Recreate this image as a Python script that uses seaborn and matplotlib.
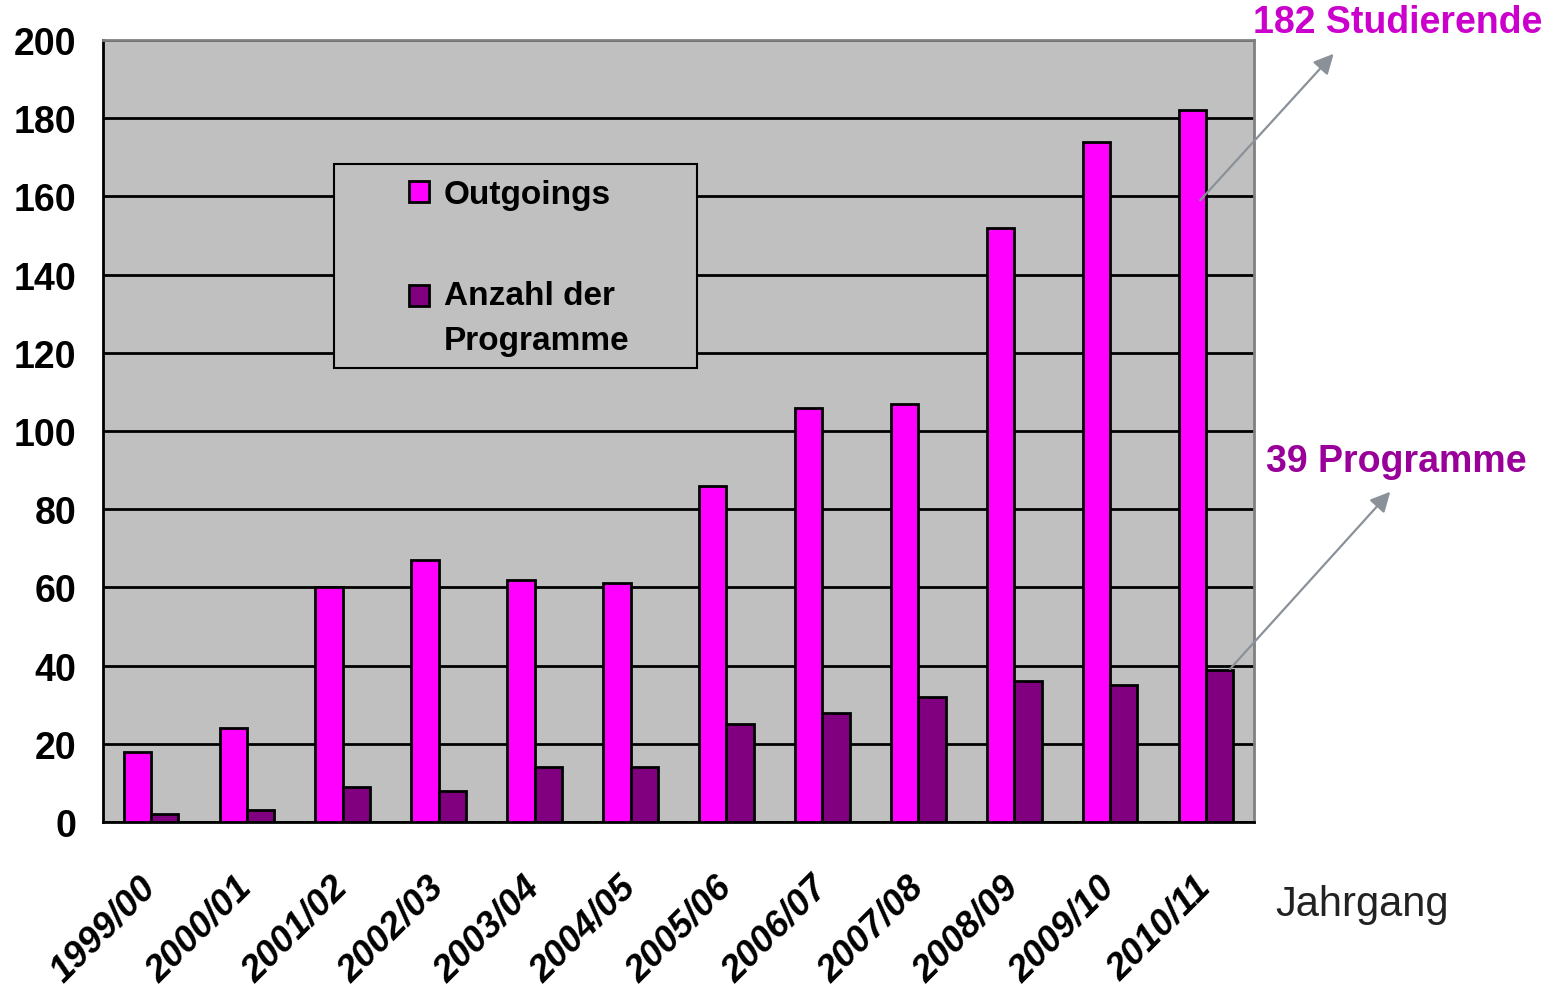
import pandas as pd
import numpy as np
import matplotlib
matplotlib.use('Agg')
import matplotlib.pyplot as plt
import seaborn as sns
from matplotlib.patches import Rectangle
from matplotlib.legend_handler import HandlerPatch

# dados
jahrgaenge = ['1999/00', '2000/01', '2001/02', '2002/03', '2003/04', '2004/05',
              '2005/06', '2006/07', '2007/08', '2008/09', '2009/10', '2010/11']
outgoings = [18, 24, 60, 67, 62, 61, 86, 106, 107, 152, 174, 182]
programme = [2, 3, 9, 8, 14, 14, 25, 28, 32, 36, 35, 39]
serien = ['Outgoings', 'Anzahl der\nProgramme']

df = pd.DataFrame({
    'Jahrgang': jahrgaenge * 2,
    'Wert': outgoings + programme,
    'Serie': [serien[0]] * len(jahrgaenge) + [serien[1]] * len(jahrgaenge),
})

sns.set_style('white')
plt.rcParams['font.family'] = ['Liberation Sans', 'DejaVu Sans']
for k in ['text.color', 'axes.labelcolor', 'xtick.color', 'ytick.color']:
    plt.rcParams[k] = 'black'

fig = plt.figure(figsize=(15.59, 9.95), dpi=100)
ax = fig.add_axes([103 / 1559, 1 - 823 / 995, 1151 / 1559, 782 / 995])
ax.set_facecolor('#C0C0C0')

cores = {serien[0]: '#FF00FF', serien[1]: '#800080'}
sns.barplot(data=df, x='Jahrgang', y='Wert', hue='Serie', palette=cores,
            width=0.57, edgecolor='black', linewidth=2, saturation=1,
            ax=ax, legend=True, zorder=3)

ax.set_xlim(-0.5, len(jahrgaenge) - 0.5)
ax.set_ylim(0, 200)
ax.set_yticks(range(0, 201, 20))
ax.set_axisbelow(True)
ax.yaxis.grid(True, color='black', linewidth=2)
ax.xaxis.grid(False)

# ticks nas divisões das categorias, rótulos no centro
ax.set_xticks(np.arange(-0.5, len(jahrgaenge), 1.0))
ax.set_xticklabels([])
ax.tick_params(axis='x', which='major', direction='out', length=9, width=1.5, color='black')
ax.set_xticks(range(len(jahrgaenge)), minor=True)
ax.set_xticklabels(jahrgaenge, minor=True, rotation=45, ha='right', va='center',
                   rotation_mode='anchor', fontsize=26.5, fontweight='bold', fontstyle='italic')
ax.tick_params(axis='x', which='minor', length=0, pad=43)
ax.tick_params(axis='y', direction='out', length=9, width=1.5, color='black',
               labelsize=27, pad=10)
for lbl in ax.get_yticklabels():
    lbl.set_fontweight('bold')

ax.set_xlabel('')
ax.set_ylabel('')
for lado in ['top', 'right']:
    ax.spines[lado].set_color('#808080')
    ax.spines[lado].set_linewidth(2)
for lado in ['left', 'bottom']:
    ax.spines[lado].set_color('black')
    ax.spines[lado].set_linewidth(2)

# caixa da legenda
ax.add_patch(Rectangle((0.2007, 0.5806), 0.3155, 0.2604, transform=ax.transAxes,
                       facecolor='#C0C0C0', edgecolor='black', linewidth=1.5, zorder=2))


def quadrado_acima(legend, orig_handle, xdescent, ydescent, width, height, fontsize):
    # marcador alinhado com a primeira linha do texto
    return Rectangle((-xdescent, -ydescent + 0.7 * fontsize), width, height)


handles, labels = ax.get_legend_handles_labels()
leg = ax.legend(handles, labels, loc='upper left', bbox_to_anchor=(0.2455, 0.852),
                frameon=False, fontsize=24, handlelength=0.6, handleheight=0.6,
                handletextpad=0.45, labelspacing=2.1, borderpad=0.2,
                handler_map={handles[1]: HandlerPatch(patch_func=quadrado_acima)})
leg.set_zorder(6)
for t in leg.get_texts():
    t.set_fontweight('bold')
    t.set_linespacing(1.6)

# setas e textos das anotações
ax.annotate('', xy=(12.35, 197), xytext=(10.92, 158.5), annotation_clip=False,
            arrowprops=dict(arrowstyle='-|>', color='#8A9198', lw=1.6, mutation_scale=30))
ax.annotate('', xy=(12.94, 85), xytext=(11.23, 38.6), annotation_clip=False,
            arrowprops=dict(arrowstyle='-|>', color='#8A9198', lw=1.6, mutation_scale=30))
fig.text(1398 / 1559, 1 - 23 / 995, '182 Studierende', color='#CC00CC', fontsize=27,
         fontweight='bold', ha='center', va='center')
fig.text(1396 / 1559, 1 - 462 / 995, '39 Programme', color='#990099', fontsize=27,
         fontweight='bold', ha='center', va='center')
fig.text(1362 / 1559, 1 - 905 / 995, 'Jahrgang', color='#222222', fontsize=30,
         ha='center', va='center')

plt.savefig('out.png', dpi=100)
